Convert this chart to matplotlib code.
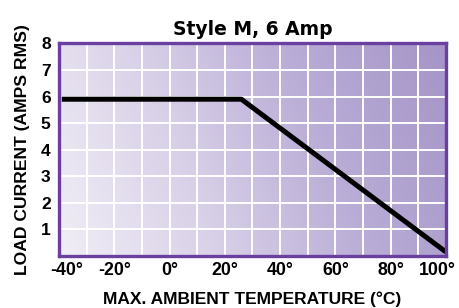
import numpy as np
import matplotlib
matplotlib.use("Agg")
import matplotlib.pyplot as plt
import matplotlib.transforms as mtransforms
from matplotlib.colors import LinearSegmentedColormap

# data
temp = [-39, 26, 100]
current = [5.9, 5.9, 0.15]
x_ticks = [-40, -20, 0, 20, 40, 60, 80, 100]
y_ticks = [1, 2, 3, 4, 5, 6, 7, 8]

fig = plt.figure(figsize=(4.59, 3.08), dpi=100)
ax = fig.add_axes([0.1285, 0.169, 0.843, 0.690])

# purple gradient background, light bottom-left -> dark right
cmap = LinearSegmentedColormap.from_list("purp", ["#f1eef6", "#d9d1e8", "#b9acd6", "#a595c7"])
gx, gy = np.meshgrid(np.linspace(0, 1, 300), np.linspace(0, 1, 200))
grad = 0.82 * gx + 0.18 * gy
ax.imshow(grad, cmap=cmap, extent=(-40, 100, 0, 8), origin="lower",
          aspect="auto", zorder=0, vmin=0, vmax=1)

ax.set_xlim(-40, 100)
ax.set_ylim(0, 8)

# white grid
for gxv in range(-30, 100, 10):
    ax.axvline(gxv, color="white", lw=1.4, zorder=1)
for gyv in range(1, 8):
    ax.axhline(gyv, color="white", lw=1.4, zorder=1)

ax.plot(temp, current, color="black", lw=3.6, solid_capstyle="butt", zorder=3)

for s in ax.spines.values():
    s.set_color("#6a3fa0")
    s.set_linewidth(2.4)
    s.set_zorder(4)

ax.tick_params(length=0, pad=4)
ax.set_xticks(x_ticks)
ax.set_xticklabels([f"{t}°" for t in x_ticks], fontsize=12.8, fontweight="bold",
                   family="Liberation Sans")
ax.set_yticks(y_ticks)
ax.set_yticklabels([str(t) for t in y_ticks], fontsize=12.5, fontweight="bold",
                   family="Liberation Sans")
ax.tick_params(axis="y", pad=6)

# nudge edge x labels inward like the original
xl = ax.get_xticklabels()
xl[0].set_transform(xl[0].get_transform() + mtransforms.ScaledTranslation(0.08, 0, fig.dpi_scale_trans))
xl[-1].set_transform(xl[-1].get_transform() + mtransforms.ScaledTranslation(-0.09, 0, fig.dpi_scale_trans))

ax.set_xlabel("MAX. AMBIENT TEMPERATURE (°C)", fontsize=12.5, fontweight="bold",
              family="Liberation Sans", labelpad=9)
ax.set_ylabel("LOAD CURRENT (AMPS RMS)", fontsize=12.6, fontweight="bold",
              family="Liberation Sans", labelpad=8)
ax.set_title("Style M, 6 Amp", fontsize=13.5, fontweight="bold", family="DejaVu Sans", pad=6)

plt.savefig("out.png", dpi=100)
